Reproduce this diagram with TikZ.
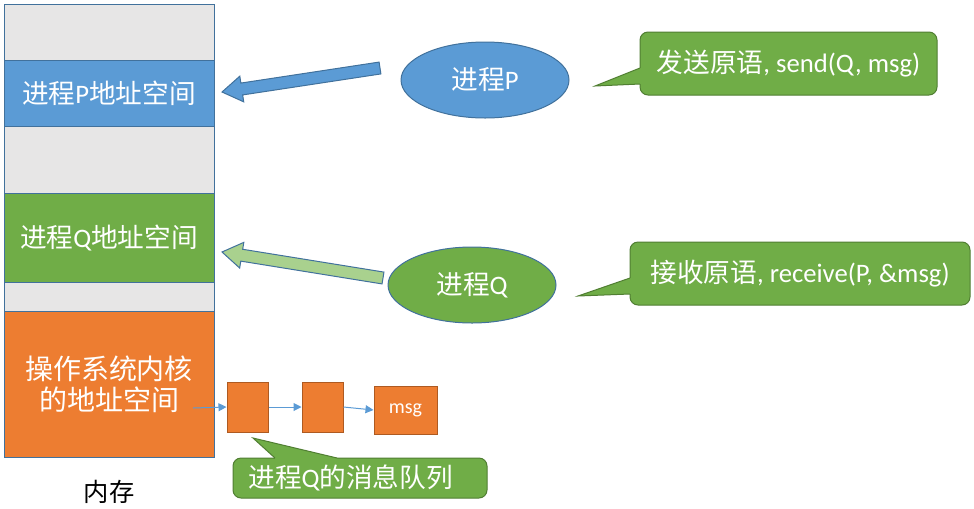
\documentclass[tikz,border=0pt]{standalone}
\usepackage{fontspec}
\setmainfont{Carlito}
\newfontfamily\zh{Noto Sans CJK SC}
\usetikzlibrary{shapes.geometric,arrows.meta}
\definecolor{memgray}{HTML}{E7E6E6}
\definecolor{edgeblue}{HTML}{41719C}
\definecolor{pblue}{HTML}{5B9BD5}
\definecolor{qgreen}{HTML}{70AD47}
\definecolor{notegreen}{HTML}{507E32}
\definecolor{lightgreen}{HTML}{A9D18E}
\definecolor{korange}{HTML}{ED7D31}
\definecolor{qorange}{HTML}{AE5A21}
\newcommand{\jincheng}{{\zh 进程}}
\newcommand{\dizhi}{{\zh 地址空间}}

\begin{document}
\begin{tikzpicture}[x=0.75pt,y=-0.75pt,
  seg/.style={draw=edgeblue, line width=0.75pt, minimum width=157.5pt, inner sep=0pt, text=white, align=center, font=\fontsize{20}{23}\selectfont},
  proc/.style={ellipse, draw=edgeblue, line width=0.75pt, minimum width=126pt, minimum height=57pt, text=white, font=\fontsize{20}{23}\selectfont},
  note/.style={draw=notegreen, fill=qgreen, line width=0.75pt, rounded corners=6pt, inner sep=0pt, text=white, font=\fontsize{20}{23}\selectfont},
  qbox/.style={draw=qorange, fill=korange, line width=0.75pt, inner sep=0pt},
  qline/.style={draw=pblue, line width=0.75pt, -{Triangle[length=6pt,width=6pt]}},
  blockarrow/.style={draw=edgeblue, line width=0.75pt}]
\useasboundingbox (0,0) rectangle (974,508);

% memory column
\node[seg, fill=memgray, minimum height=42pt] (top) at (109,32) {};
\node[seg, fill=pblue, minimum height=49.5pt] (pspace) at (109,93) {\jincheng P\dizhi};
\node[seg, fill=memgray, minimum height=50.25pt] (mid) at (109,159.5) {};
\node[seg, fill=qgreen, minimum height=66.75pt] (qspace) at (109,237.5) {\jincheng Q\dizhi};
\node[seg, fill=memgray, minimum height=21.75pt] (low) at (109,296.5) {};
\node[seg, fill=korange, minimum height=109.5pt, font=\fontsize{21}{23}\selectfont] (kernel) at (109,384) {{\zh 操作系统内核}\\{\zh 的}\dizhi};
\node[font=\fontsize{19}{22}\selectfont\zh] (mem) at (109,492) {内存};

% processes
\node[proc, fill=pblue] (P) at (485,80) {\jincheng P};
\node[proc, fill=qgreen] (Q) at (472,285) {\jincheng Q};

\draw[blockarrow, fill=pblue] (379.1,62.07) -- (240.87,83.07) -- (239.82,76.15) -- (222,92)
  -- (243.72,101.85) -- (242.67,94.93) -- (380.9,73.93) -- cycle;
\draw[blockarrow, fill=lightgreen] (383.96,272.08) -- (242.70,249.27) -- (243.81,242.36) -- (222,252)
  -- (239.67,268.02) -- (240.78,261.11) -- (382.04,283.92) -- cycle;

% callouts
\node[note, minimum width=222.75pt, minimum height=47.25pt] (send) at (788.5,63.5) {{\zh 发送原语}, send(Q, msg)};
\coordinate (sendtip) at (595,86);
\fill[qgreen] (sendtip) -- (640,68) -- (644,68) -- (644,84) -- (640,84) -- cycle;
\draw[notegreen, line width=0.75pt] (640,68) -- (sendtip) -- (640,84);

\node[note, minimum width=255pt, minimum height=47.25pt] (recv) at (800,273.5) {{\zh 接收原语}, receive(P, \&msg)};
\coordinate (recvtip) at (578,296);
\fill[qgreen] (recvtip) -- (630,278) -- (634,278) -- (634,294) -- (630,294) -- cycle;
\draw[notegreen, line width=0.75pt] (630,278) -- (recvtip) -- (630,294);

% message queue
\node[qbox, minimum width=30.75pt, minimum height=37.5pt] (q1) at (247.5,407) {};
\node[qbox, minimum width=30.75pt, minimum height=37.5pt] (q2) at (322.5,407) {};
\node[qbox, minimum width=47.25pt, minimum height=36pt, text=white, font=\fontsize{15}{17}\selectfont] (msg) at (405.5,410) {msg};
\coordinate (qstart) at (193,408);
\draw[qline] (qstart) -- (q1.west);
\draw[qline] (q1.east) -- (q2.west);
\draw[qline] (q2.east) -- (msg.west);

\node[note, minimum width=190.5pt, minimum height=30pt] (queue) at (360,478) {\jincheng Q{\zh 的消息队列}\hspace*{14pt}};
\coordinate (queuetip) at (253,438);
\fill[qgreen] (queuetip) -- (275,458) -- (275,462) -- (337,462) -- (337,458) -- cycle;
\draw[notegreen, line width=0.75pt] (275,458) -- (queuetip) -- (337,458);
\end{tikzpicture}
\end{document}
